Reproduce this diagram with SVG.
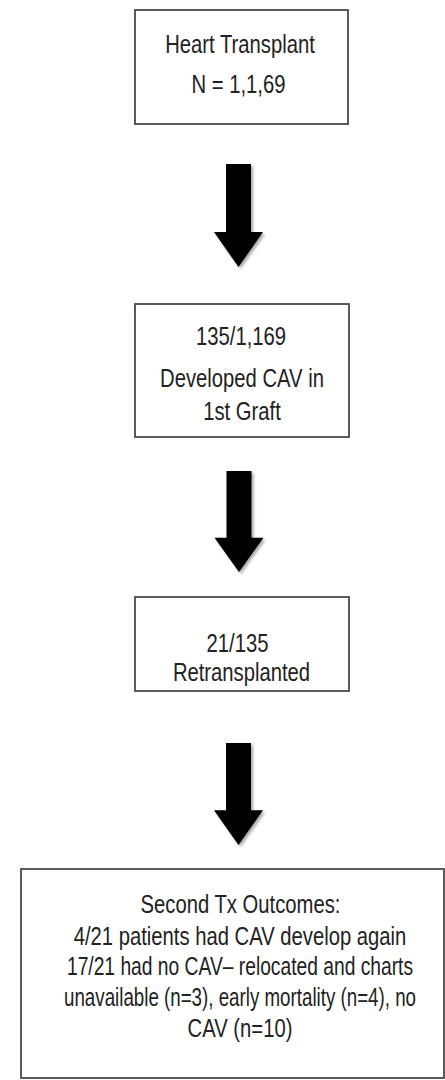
<svg xmlns="http://www.w3.org/2000/svg" width="445" height="1080" viewBox="0 0 445 1080">
  <defs>
    <style>
      .box { fill: #ffffff; stroke: #4a4a4a; stroke-width: 1.8; }
      .txt { font-family: "Liberation Sans", "Open Sans", sans-serif; font-size: 25px; fill: #222222; text-anchor: middle; }
      .arrow { fill: #000000; filter: url(#shadow); }
    </style>
    <filter id="shadow" x="-30%" y="-20%" width="160%" height="140%">
      <feDropShadow dx="2" dy="2" stdDeviation="1.5" flood-color="#000" flood-opacity="0.35"/>
    </filter>
    <path id="arrowShape" d="M-12.5,0 H12.5 V68 H24.5 L0,103 L-24.5,68 H-12.5 Z"/>
  </defs>
  <rect width="445" height="1080" fill="#ffffff"/>

  <g id="connectors">
    <use href="#arrowShape" class="arrow" transform="translate(238.5,164)"/>
    <use href="#arrowShape" class="arrow" transform="translate(239,471) scale(1,0.98)"/>
    <use href="#arrowShape" class="arrow" transform="translate(238.5,743) scale(1,0.99)"/>
  </g>

  <g id="node1">
    <rect class="box" x="135" y="10" width="213" height="114"/>
    <text class="txt" transform="translate(240,53) scale(0.81,1)">Heart Transplant</text>
    <text class="txt" transform="translate(238.5,93) scale(0.81,1)">N = 1,1,69</text>
  </g>

  <g id="node2">
    <rect class="box" x="135" y="304" width="214" height="133"/>
    <text class="txt" transform="translate(241,345) scale(0.81,1)">135/1,169</text>
    <text class="txt" transform="translate(242,387) scale(0.81,1)">Developed CAV in</text>
    <text class="txt" transform="translate(242,420) scale(0.81,1)">1st Graft</text>
  </g>

  <g id="node3">
    <rect class="box" x="135" y="597" width="214" height="94"/>
    <text class="txt" transform="translate(237.5,652) scale(0.81,1)">21/135</text>
    <text class="txt" transform="translate(241.5,681) scale(0.81,1)">Retransplanted</text>
  </g>

  <g id="node4">
    <rect class="box" x="21" y="869" width="423" height="209"/>
    <text class="txt" transform="translate(240.5,913) scale(0.81,1)">Second Tx Outcomes:</text>
    <text class="txt" transform="translate(240,945) scale(0.81,1)">4/21 patients had CAV develop again</text>
    <text class="txt" transform="translate(240,975) scale(0.77,1)">17/21 had no CAV– relocated and charts</text>
    <text class="txt" transform="translate(240,1006) scale(0.75,1)">unavailable (n=3), early mortality (n=4), no</text>
    <text class="txt" transform="translate(240,1037) scale(0.81,1)">CAV (n=10)</text>
  </g>
</svg>
